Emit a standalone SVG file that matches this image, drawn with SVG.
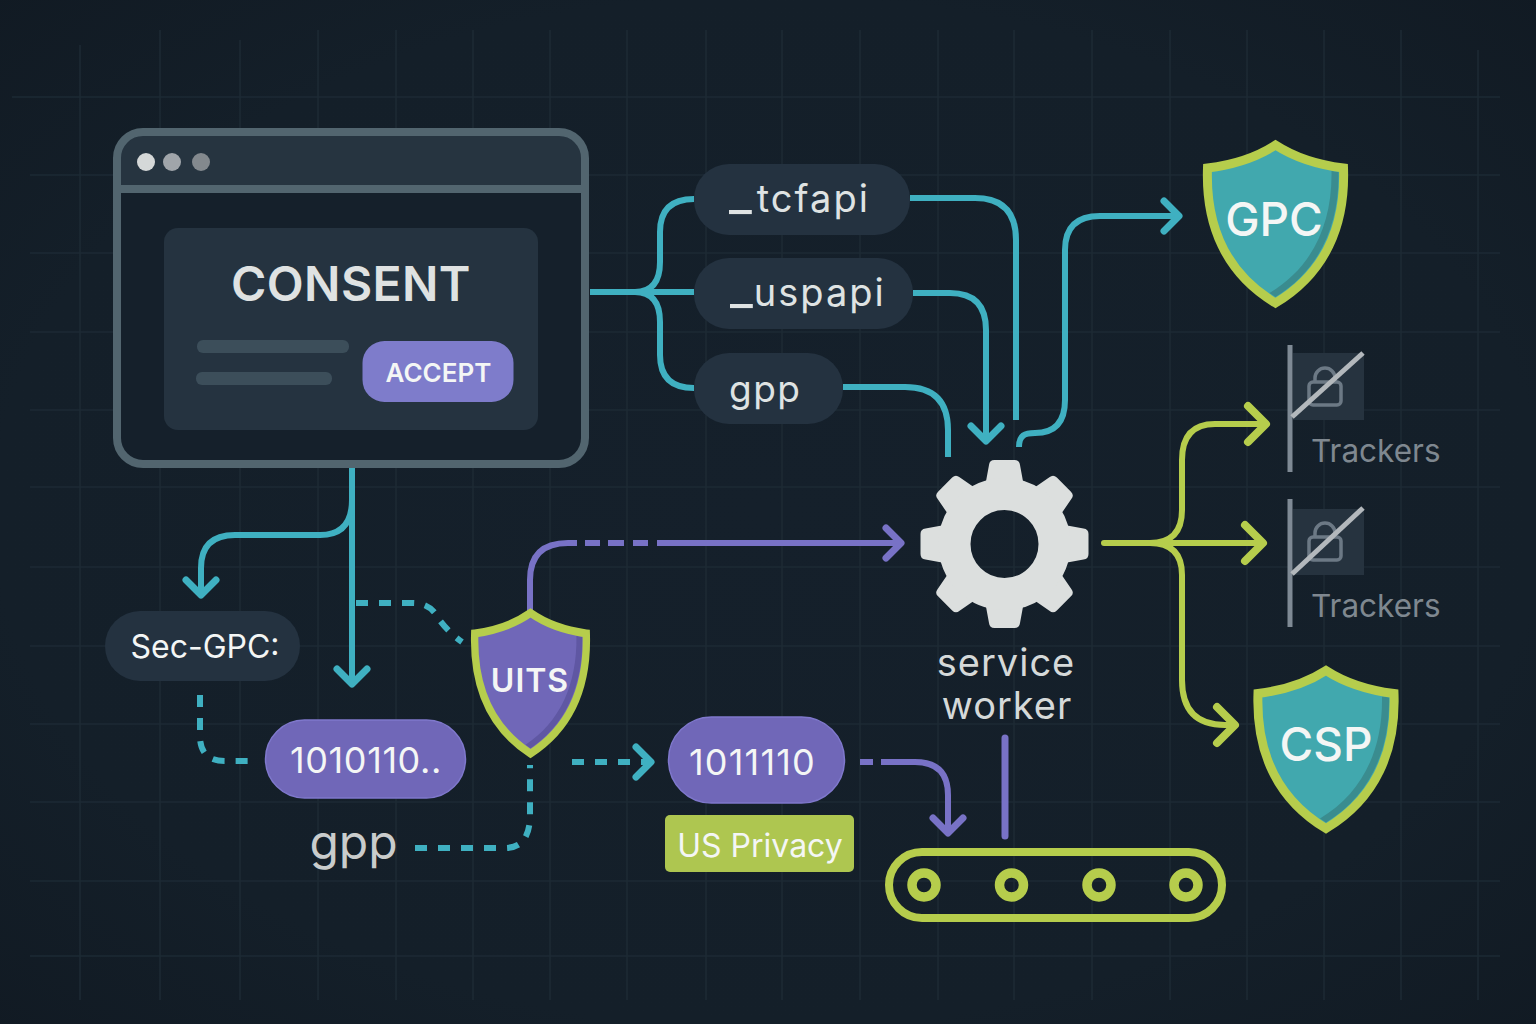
<svg xmlns="http://www.w3.org/2000/svg" xmlns:xlink="http://www.w3.org/1999/xlink" width="1536" height="1024" viewBox="0 0 1536 1024">
<style>
text{font-family:Inter,"Noto Sans","Liberation Sans",sans-serif;}
.c{fill:none;stroke-linecap:butt;stroke-linejoin:round;stroke-width:6;}
.t{stroke:#3fb0c1;}.p{stroke:#7872c6;}.l{stroke:#b6cd4c;}
.d{stroke-dasharray:12 11;stroke-width:6;}
.dark{fill:#243240;}
.bin{fill:#7067b8;stroke:#7f78cc;stroke-width:1.5;}
.w{fill:#f4f6f5;text-anchor:middle;}
.api{fill:#dfe3e3;font-size:38px;letter-spacing:2px;}
.tr{fill:#7f8890;font-size:31.5px;}
.shL{fill:none;stroke:#b6cd4c;stroke-width:9;stroke-linejoin:miter;}
</style>
<defs>
<radialGradient id="bg" cx="50%" cy="50%" r="72%"><stop offset="0" stop-color="#15202b"/><stop offset="0.7" stop-color="#141f29"/><stop offset="1" stop-color="#111a23"/></radialGradient>
<marker id="at" markerUnits="userSpaceOnUse" markerWidth="40" markerHeight="40" refX="20" refY="20" orient="auto" overflow="visible" viewBox="0 0 40 40"><path d="M5,5 L20,20 L5,35" fill="none" stroke="#3fb0c1" stroke-width="7" stroke-linecap="round" stroke-linejoin="round"/></marker>
<marker id="ap" markerUnits="userSpaceOnUse" markerWidth="40" markerHeight="40" refX="20" refY="20" orient="auto" overflow="visible" viewBox="0 0 40 40"><path d="M5,5 L20,20 L5,35" fill="none" stroke="#7872c6" stroke-width="7" stroke-linecap="round" stroke-linejoin="round"/></marker>
<marker id="al" markerUnits="userSpaceOnUse" markerWidth="48" markerHeight="48" refX="24" refY="24" orient="auto" overflow="visible" viewBox="0 0 48 48"><path d="M6,6 L24,24 L6,42" fill="none" stroke="#b6cd4c" stroke-width="8" stroke-linecap="round" stroke-linejoin="round"/></marker>
<path id="shield" d="M0,5 C20,18 44,25 68,28 C70,85 50,133 0,163 C-50,133 -70,85 -68,28 C-44,25 -20,18 0,5 Z"/>
<path id="shade" d="M63,32 C64,85 44,130 0,157 L-6,153 C36,128 57,85 56,31 Z"/>
<path id="tooth" d="M-19,-60 L-15.5,-79 Q-15,-84 -10,-84 L10,-84 Q15,-84 15.5,-79 L19,-60 Z" fill="#dcdfde"/>
<g id="lock" fill="none" stroke="#6c7985" stroke-width="3.5"><rect x="1309" y="382" width="32" height="23" rx="4"/><path d="M1315,382 V378 a10,10 0 0 1 20,0 V382"/></g>
</defs>

<rect id="background" width="1536" height="1024" fill="url(#bg)"/>
<path id="grid" fill="none" stroke="#1d2a34" stroke-width="1.6" d="M80,45V1000M160,30V1000M240,40V1000M318,30V1000M396,30V1000M473,30V1000M550,30V1000M627,30V1000M706,30V1000M782,30V1000M860,30V1000M938,30V1000M1014,30V1000M1092,30V1000M1170,30V1000M1247,30V1000M1324,30V1000M1401,30V1000M1478,50V1000
M12,97H1500M30,175H1500M30,253H1500M30,332H1500M30,410H1500M30,487H1500M30,567H1500M30,646H1500M30,724H1500M30,802H1500M30,881H1500M30,956H1500"/>

<g id="connectors">
<path class="c t" d="M590,292H694"/>
<path class="c t" d="M635,292 Q660,292 660,262V232 Q660,199 694,199"/>
<path class="c t" d="M635,292 Q660,292 660,322V355 Q660,388 694,388"/>
<path class="c t" d="M910,198H975 Q1016,198 1016,240V420"/>
<path class="c t" marker-end="url(#at)" d="M913,293H950 Q986,293 986,330V441"/>
<path class="c t" d="M843,387H905 Q948,387 948,430V457"/>
<path class="c t" marker-end="url(#at)" d="M1019,447 C1019,435 1025,433 1035,433 Q1065,433 1065,400V250 Q1065,216 1100,216H1179"/>
<path class="c t" marker-end="url(#at)" d="M352,464V684"/>
<path class="c t" marker-end="url(#at)" d="M352,500 Q352,535 320,535H235 Q201,535 201,568V595"/>
<path class="c t d" d="M356,603H410 Q430,602 438,618 Q448,632 462,642"/>
<path class="c t d" d="M200,695V738 Q201,761 225,761H252"/>
<path class="c t d" d="M415,848H505 Q530,848 530,815V765"/>
<path class="c t d" marker-end="url(#at)" d="M572,762H651"/>
<path class="c p" d="M530,615V580 Q530,543 568,543H577M585,543H600M608,543H624M633,543H648"/>
<path class="c p" marker-end="url(#ap)" d="M657,543H901"/>
<path class="c p" d="M860,762H873"/>
<path class="c p" marker-end="url(#ap)" d="M881,762H915 Q948,762 948,795V833"/>
<path class="c p" style="stroke-linecap:round;stroke-width:7" d="M1005,738V836"/>
<path class="c l" style="stroke-linecap:round" d="M1104,543H1150"/>
<path class="c l" marker-end="url(#al)" d="M1150,543H1263"/>
<path class="c l" marker-end="url(#al)" d="M1150,543 Q1182,543 1182,510V460 Q1182,424 1215,424H1266"/>
<path class="c l" marker-end="url(#al)" d="M1150,543 Q1182,543 1182,575V680 Q1182,725 1225,725H1235"/>
</g>

<g id="browser">
<rect x="117" y="132" width="468" height="332" rx="26" fill="#15202b"/>
<path d="M117,189V158a26,26 0 0 1 26,-26H559a26,26 0 0 1 26,26V189Z" fill="#263440"/>
<rect x="117" y="132" width="468" height="332" rx="26" fill="none" stroke="#52656f" stroke-width="8"/>
<path d="M117,189H585" stroke="#52656f" stroke-width="8"/>
<circle cx="146" cy="162" r="9" fill="#d5d8d8"/><circle cx="172" cy="162" r="9" fill="#a0a5aa"/><circle cx="201" cy="162" r="9" fill="#83898e"/>
<rect x="164" y="228" width="374" height="202" rx="14" fill="#253340"/>
<text x="351" y="301" fill="#dfe2e2" font-size="48" font-weight="600" letter-spacing="0.400" text-anchor="middle">CONSENT</text>
<rect x="197" y="340" width="152" height="13" rx="6" fill="#3c4e5a"/>
<rect x="196" y="372" width="136" height="13" rx="6" fill="#3c4e5a"/>
<rect x="362.500" y="341" width="151" height="61" rx="22" fill="#7e7ccb"/>
<text class="w" x="438.500" y="382" font-size="26" font-weight="600">ACCEPT</text>
</g>

<g id="tcfapi"><rect class="dark" x="694" y="164" width="216" height="71" rx="35"/><text class="api" x="729" y="212"><tspan font-size="50" dy="-2">_</tspan><tspan dy="2" dx="3">tcfapi</tspan></text></g>
<g id="uspapi"><rect class="dark" x="694" y="258" width="219" height="71" rx="35"/><text class="api" x="730" y="306"><tspan font-size="50" dy="-2">_</tspan><tspan dy="2" dx="-1">uspapi</tspan></text></g>
<g id="gpp-api"><rect class="dark" x="694" y="353" width="149" height="71" rx="35"/><text class="api" style="font-size:37px;letter-spacing:1.500px" x="729" y="402">gpp</text></g>

<g id="gpc" transform="translate(1275.500,140)"><use xlink:href="#shield" fill="#41a8ae"/><use xlink:href="#shade" fill="#3a8c8f"/><use xlink:href="#shield" class="shL"/><text class="w" x="-1.500" y="96" font-size="46" font-weight="500">GPC</text></g>
<g id="csp" transform="translate(1326,665.500)"><use xlink:href="#shield" fill="#41a8ae"/><use xlink:href="#shade" fill="#3a8c8f"/><use xlink:href="#shield" class="shL"/><text class="w" x="0" y="95" font-size="46" font-weight="500">CSP</text></g>
<g id="uits" transform="translate(530.500,608.500) scale(0.82,0.89)"><use xlink:href="#shield" fill="#7067b8"/><use xlink:href="#shade" fill="#5f57a3"/><use xlink:href="#shield" class="shL"/></g>
<text class="w" x="530" y="692" font-size="32" font-weight="600" letter-spacing="1">UITS</text>

<g id="trackers-1">
<path d="M1290,345V472" stroke="#7f8a95" stroke-width="5"/>
<rect x="1293" y="353" width="71" height="67" fill="#26333f"/>
<use xlink:href="#lock"/>
<path d="M1292,417L1363,353" stroke="#b3b8bc" stroke-width="5"/>
<text class="tr" x="1311" y="462">Trackers</text>
</g>
<g id="trackers-2">
<path d="M1290,499V627" stroke="#7f8a95" stroke-width="5"/>
<rect x="1293" y="509" width="71" height="66" fill="#26333f"/>
<use xlink:href="#lock" y="155"/>
<path d="M1292,574L1363,508" stroke="#b3b8bc" stroke-width="5"/>
<text class="tr" x="1311" y="617">Trackers</text>
</g>

<g id="service-worker">
<g transform="translate(1004.500,544)">
<use xlink:href="#tooth"/><use xlink:href="#tooth" transform="rotate(45)"/><use xlink:href="#tooth" transform="rotate(90)"/><use xlink:href="#tooth" transform="rotate(135)"/><use xlink:href="#tooth" transform="rotate(180)"/><use xlink:href="#tooth" transform="rotate(225)"/><use xlink:href="#tooth" transform="rotate(270)"/><use xlink:href="#tooth" transform="rotate(315)"/>
<circle r="50" fill="none" stroke="#dcdfde" stroke-width="32"/>
</g>
<text x="1006" y="676" fill="#d5d9d9" font-size="38" letter-spacing="1" text-anchor="middle">service</text>
<text x="1007" y="719" fill="#d5d9d9" font-size="38" letter-spacing="1" text-anchor="middle">worker</text>
</g>

<g id="sec-gpc"><rect class="dark" x="105" y="611" width="195" height="70" rx="35"/><text class="w" x="205" y="658" font-size="32">Sec-GPC:</text></g>
<g id="bits-1"><rect class="bin" x="265.500" y="720" width="200" height="78" rx="39"/><text class="w" x="366" y="773" font-size="36" letter-spacing="0.600">1010110..</text></g>
<g id="gpp-label"><text x="353.500" y="859" fill="#c9cccc" font-size="48" text-anchor="middle">gpp</text></g>
<g id="bits-2"><rect class="bin" x="668.500" y="717" width="176" height="86" rx="43"/><text class="w" x="752.500" y="775" font-size="36" letter-spacing="1.200">1011110</text></g>
<g id="us-privacy"><rect x="665" y="815" width="189" height="57" rx="5" fill="#aec650"/><text class="w" x="760" y="857" font-size="32">US Privacy</text></g>

<g id="conveyor">
<rect x="889" y="852" width="333" height="66" rx="33" fill="none" stroke="#b6cd4c" stroke-width="8"/>
<g fill="none" stroke="#b6cd4c" stroke-width="9.500"><circle cx="924" cy="885" r="12"/><circle cx="1011.500" cy="885" r="12"/><circle cx="1099" cy="885" r="12"/><circle cx="1186" cy="885" r="12"/></g>
</g>
</svg>
